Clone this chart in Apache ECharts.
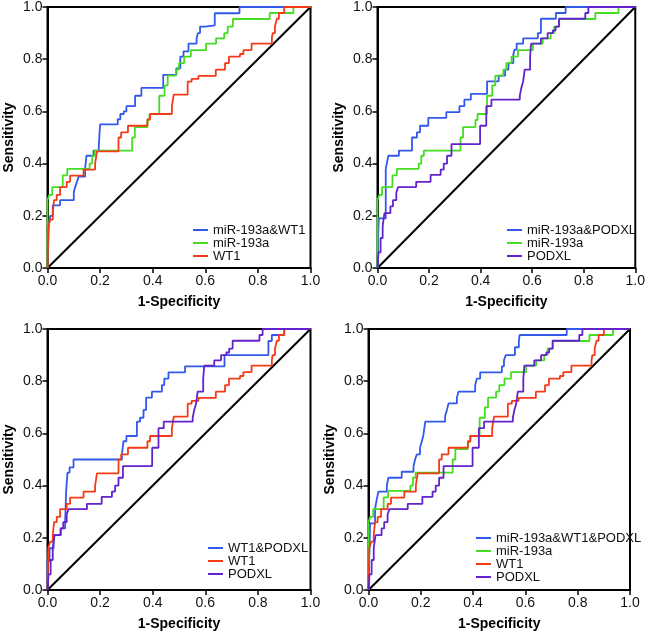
<!DOCTYPE html>
<html><head><meta charset="utf-8">
<script src="https://cdn.jsdelivr.net/npm/echarts/dist/echarts.min.js"></script>
<style>html,body{margin:0;padding:0;background:#fff}#c{width:648px;height:637px}</style>
</head><body><div id="c"></div>
<script>
// ROC points [1-Specificity, Sensitivity]
const rocWT1 = [[0,0],[0.003,0.16],[0.01,0.185],[0.02,0.21],[0.025,0.26],[0.035,0.28],[0.048,0.31],[0.073,0.33],[0.086,0.354],[0.137,0.377],[0.181,0.4],[0.188,0.447],[0.27,0.5],[0.28,0.52],[0.306,0.545],[0.38,0.57],[0.39,0.59],[0.473,0.62],[0.48,0.664],[0.533,0.714],[0.548,0.725],[0.574,0.736],[0.64,0.76],[0.675,0.785],[0.69,0.81],[0.732,0.82],[0.745,0.835],[0.776,0.86],[0.853,0.88],[0.856,0.9],[0.865,0.925],[0.872,0.955],[0.88,0.977],[0.9,1.0],[1,1]];
const rocMiR193a = [[0,0],[0,0.26],[0.007,0.28],[0.018,0.31],[0.058,0.355],[0.075,0.38],[0.16,0.4],[0.17,0.43],[0.18,0.45],[0.322,0.5],[0.332,0.54],[0.38,0.567],[0.388,0.59],[0.425,0.66],[0.445,0.7],[0.457,0.737],[0.488,0.76],[0.5,0.785],[0.52,0.81],[0.545,0.835],[0.603,0.86],[0.641,0.88],[0.672,0.9],[0.685,0.925],[0.705,0.954],[0.845,0.977],[0.935,1.0],[1,1]];
const rocPODXL = [[0,0],[0.004,0.06],[0.012,0.115],[0.02,0.16],[0.027,0.21],[0.05,0.236],[0.06,0.26],[0.073,0.29],[0.08,0.31],[0.15,0.33],[0.206,0.357],[0.245,0.377],[0.257,0.4],[0.27,0.43],[0.287,0.475],[0.398,0.545],[0.422,0.62],[0.442,0.645],[0.552,0.66],[0.558,0.69],[0.565,0.715],[0.571,0.76],[0.592,0.81],[0.596,0.86],[0.634,0.88],[0.66,0.9],[0.68,0.91],[0.691,0.925],[0.704,0.955],[0.806,0.977],[0.818,1.0],[1,1]];
const rocMiR193aWT1 = [[0,0],[0.005,0.16],[0.01,0.2],[0.02,0.24],[0.048,0.26],[0.1,0.29],[0.105,0.31],[0.112,0.33],[0.118,0.35],[0.143,0.38],[0.148,0.43],[0.175,0.45],[0.195,0.47],[0.2,0.55],[0.267,0.57],[0.277,0.59],[0.29,0.6],[0.3,0.62],[0.333,0.66],[0.357,0.69],[0.44,0.74],[0.49,0.765],[0.505,0.81],[0.517,0.83],[0.536,0.86],[0.567,0.88],[0.572,0.9],[0.58,0.925],[0.6,0.93],[0.636,0.976],[0.73,1.0],[1,1]];
const rocMiR193aPODXL = [[0,0],[0.002,0.1],[0.005,0.19],[0.032,0.38],[0.036,0.4],[0.042,0.43],[0.083,0.45],[0.134,0.5],[0.153,0.52],[0.165,0.545],[0.197,0.575],[0.267,0.597],[0.318,0.62],[0.337,0.645],[0.362,0.667],[0.425,0.715],[0.47,0.737],[0.495,0.76],[0.508,0.785],[0.527,0.82],[0.532,0.837],[0.54,0.86],[0.565,0.88],[0.622,0.9],[0.634,0.955],[0.692,0.977],[0.73,1.0],[1,1]];
const rocWT1PODXL = [[0,0],[0,0.11],[0.008,0.16],[0.023,0.21],[0.05,0.236],[0.067,0.26],[0.071,0.38],[0.076,0.45],[0.084,0.47],[0.099,0.5],[0.283,0.52],[0.289,0.57],[0.3,0.59],[0.34,0.645],[0.352,0.66],[0.365,0.69],[0.375,0.737],[0.397,0.76],[0.435,0.785],[0.444,0.81],[0.46,0.834],[0.523,0.857],[0.673,0.9],[0.84,0.954],[0.853,0.977],[0.9,1.0],[1,1]];
const rocAll3 = [[0,0],[0.006,0.255],[0.025,0.31],[0.032,0.35],[0.038,0.377],[0.07,0.4],[0.076,0.43],[0.127,0.453],[0.172,0.472],[0.178,0.5],[0.185,0.52],[0.197,0.545],[0.204,0.57],[0.21,0.594],[0.217,0.645],[0.293,0.667],[0.3,0.69],[0.306,0.715],[0.338,0.737],[0.344,0.76],[0.408,0.785],[0.414,0.81],[0.427,0.834],[0.51,0.857],[0.518,0.88],[0.525,0.9],[0.56,0.93],[0.575,0.955],[0.578,0.977],[0.758,1.0],[1,1]];
const refLine = [[0,0],[1,1]];
const tickLabels = ['0.0','0.2','0.4','0.6','0.8','1.0'];
const xTitle = '1-Specificity';
const yTitle = 'Sensitivity';

const BLUE = '#3358ec', GREEN = '#45dd22', RED = '#f53a17', PURPLE = '#6322cc';
const FONT = 'Liberation Sans, Arial, sans-serif';

const panels = [
  { grid:{left:47.5, top:7, width:263, height:261}, legend:{left:193, top:223.5},
    series:[['miR-193a&WT1', rocMiR193aWT1, BLUE], ['miR-193a', rocMiR193a, GREEN], ['WT1', rocWT1, RED]] },
  { grid:{left:377.5, top:7, width:261, height:261}, legend:{left:507, top:223.5},
    series:[['miR-193a&PODXL', rocMiR193aPODXL, BLUE], ['miR-193a', rocMiR193a, GREEN], ['PODXL', rocPODXL, PURPLE]] },
  { grid:{left:47.5, top:329, width:263, height:261}, legend:{left:208, top:541.5},
    series:[['WT1&PODXL', rocWT1PODXL, BLUE], ['WT1', rocWT1, RED], ['PODXL', rocPODXL, PURPLE]] },
  { grid:{left:368.5, top:329, width:261.5, height:261}, legend:{left:476, top:531.5},
    series:[['miR-193a&WT1&PODXL', rocAll3, BLUE], ['miR-193a', rocMiR193a, GREEN], ['WT1', rocWT1, RED], ['PODXL', rocPODXL, PURPLE]] }
];

const option = {animation:false, backgroundColor:'#fff', grid:[], xAxis:[], yAxis:[], legend:[], series:[]};
panels.forEach((p, i) => {
  option.grid.push(Object.assign({show:true, borderColor:'#000', borderWidth:2, containLabel:false}, p.grid));
  const common = {
    type:'value', min:0, max:1, interval:0.2, gridIndex:i,
    axisLine:{show:true, onZero:false, lineStyle:{color:'#000', width:2}},
    axisTick:{show:true, inside:false, length:5, lineStyle:{color:'#000', width:1.5}},
    splitLine:{show:false},
    nameLocation:'middle',
    nameTextStyle:{fontFamily:FONT, fontWeight:'bold', fontSize:14, color:'#000'}
  };
  option.xAxis.push(Object.assign({}, common, {
    name:xTitle, nameGap:27,
    axisLabel:{margin:6, fontFamily:FONT, fontSize:14, color:'#111', formatter:v => tickLabels[Math.round(v*5)]}
  }));
  option.yAxis.push(Object.assign({}, common, {
    name:yTitle, nameGap:31,
    axisLabel:{margin:5, fontFamily:FONT, fontSize:14, color:'#111', formatter:v => tickLabels[Math.round(v*5)]}
  }));
  option.legend.push({
    left:p.legend.left, top:p.legend.top, orient:'vertical', padding:0, itemGap:0,
    itemWidth:15, itemHeight:2, icon:'rect', selectedMode:false,
    textStyle:{fontFamily:FONT, fontSize:13, lineHeight:13, color:'#111'},
    data:p.series.map(s => s[0])
  });
  p.series.forEach(s => {
    option.series.push({
      type:'line', name:s[0], data:s[1], step:'end', xAxisIndex:i, yAxisIndex:i,
      showSymbol:false, symbol:'none', color:s[2], lineStyle:{color:s[2], width:1.8}, silent:true
    });
  });
  option.series.push({
    type:'line', name:'_ref'+i, data:refLine, xAxisIndex:i, yAxisIndex:i,
    showSymbol:false, symbol:'none', color:'#000', lineStyle:{color:'#000', width:2}, silent:true, z:1
  });
});

const chart = echarts.init(document.getElementById('c'), null, {renderer:'canvas'});
chart.setOption(option);
</script></body></html>
